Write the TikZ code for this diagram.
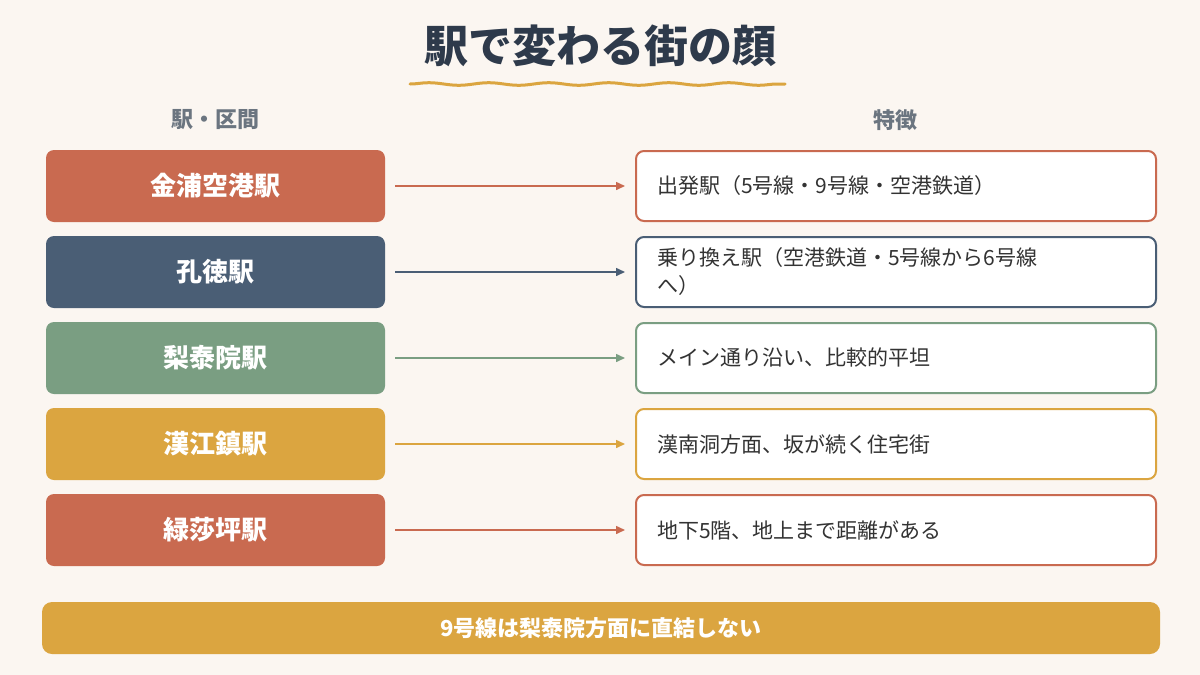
\documentclass[tikz,border=0pt]{standalone}
\usepackage{fontspec}
\setmainfont{Noto Sans CJK JP}
\usetikzlibrary{decorations.pathmorphing,arrows.meta}
\definecolor{bg}{HTML}{FBF6F1}
\definecolor{cR}{HTML}{C96A50}
\definecolor{cN}{HTML}{4A5E75}
\definecolor{cG}{HTML}{7A9E82}
\definecolor{cY}{HTML}{DBA540}
\definecolor{ink}{HTML}{2E3A4B}
\definecolor{gr}{HTML}{6B7580}
\definecolor{tx}{HTML}{333333}
\begin{document}
\begin{tikzpicture}[x=1pt,y=-1pt,
 lbox/.style={rounded corners=8pt,minimum width=339pt,minimum height=72pt,text=white,font=\fontsize{26}{30}\selectfont\bfseries},
 rbox/.style={rounded corners=8pt,draw,line width=2pt,fill=white,minimum width=520pt,minimum height=70pt,text width=478pt,align=left,text=tx,font=\fontsize{21}{28}\selectfont},
 arr/.style={line width=1.5pt,-{Triangle[length=9pt,width=8pt]}},
 hdr/.style={text=gr,font=\fontsize{22}{26}\selectfont\bfseries}]
\fill[bg] (0,0) rectangle (1200,675);
\useasboundingbox (0,0) rectangle (1200,675);
\node[text=ink,font=\fontsize{44}{50}\selectfont\bfseries] (title) at (600,46) {駅で変わる街の顔};
\draw[cY,line width=3pt,line cap=round,decorate,decoration={snake,amplitude=1.3pt,segment length=60pt}] (410,84) -- (785,84);
\node[hdr] (h1) at (215,120) {駅・区間};
\node[hdr] (h2) at (895,120) {特徴};
\foreach \i/\y/\c/\l/\r in {1/186/cR/金浦空港駅/出発駅（5号線・9号線・空港鉄道）,
 2/272/cN/孔徳駅/{乗り換え駅（空港鉄道・5号線から6号線\\へ）},
 3/358/cG/梨泰院駅/メイン通り沿い、比較的平坦,
 4/444/cY/漢江鎮駅/漢南洞方面、坂が続く住宅街,
 5/530/cR/緑莎坪駅/地下5階、地上まで距離がある}{
 \node[lbox,fill=\c] (L\i) at (215.5,\y) {\l};
 \node[rbox,draw=\c] (R\i) at (896,\y) {\r};
 \draw[arr,\c] ([xshift=10pt]L\i.east) -- ([xshift=-10pt]R\i.west);
}
\node[rounded corners=10pt,fill=cY,minimum width=1118pt,minimum height=52pt,text=white,font=\fontsize{22}{26}\selectfont\bfseries] (bar) at (601,628) {9号線は梨泰院方面に直結しない};
\end{tikzpicture}
\end{document}
